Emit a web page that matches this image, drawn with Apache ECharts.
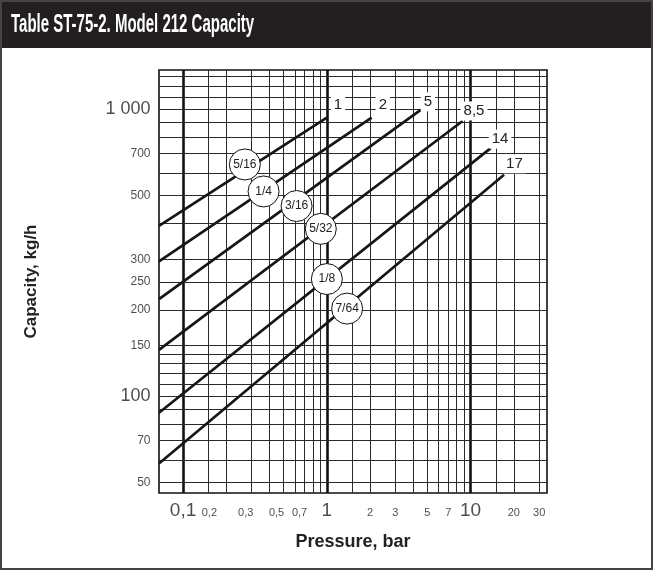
<!DOCTYPE html>
<html>
<head>
<meta charset="utf-8">
<title>Model 212 Capacity</title>
<script src="https://cdn.jsdelivr.net/npm/echarts@6/dist/echarts.min.js"></script>
<style>
  html, body { margin: 0; padding: 0; background: #fff; }
  #chart { width: 653px; height: 570px; }
</style>
</head>
<body>
<div id="chart"></div>
<script>
// plot range
const pressureMin = 0.068
const pressureMax = 34
const capacityMin = 46
const capacityMax = 1370

// one line per orifice size, ending at its max pressure
const orificeSizes = ['5/16', '1/4', '3/16', '5/32', '1/8', '7/64']
const maxPressureLabels = ['1', '2', '5', '8,5', '14', '17']
const startPressure = [0.068, 0.068, 0.068, 0.068, 0.068, 0.068]
const startCapacity = [392, 295, 218, 145, 87.6, 58.3]
const endPressure = [1.0, 2.05, 4.5, 8.8, 13.8, 17.1]
const endCapacity = [935, 935, 995, 910, 732, 591]

// where the size badges sit
const badgePressure = [0.269, 0.363, 0.616, 0.908, 1.0, 1.384]
const badgeCapacity = [642, 517, 460, 383, 256, 202]

// tick labels
const xTickValues = [0.1, 0.2, 0.3, 0.5, 0.7, 1, 2, 3, 5, 7, 10, 20, 30]
const xTickLabels = ['0,1', '0,2', '0,3', '0,5', '0,7', '1', '2', '3', '5', '7', '10', '20', '30']
const yTickValues = [50, 70, 100, 150, 200, 250, 300, 500, 700, 1000]
const yTickLabels = ['50', '70', '100', '150', '200', '250', '300', '500', '700', '1 000']

// grid lines
const xGridValues = [0.1, 0.15, 0.2, 0.3, 0.4, 0.5, 0.6, 0.7, 0.8, 0.9, 1, 1.5, 2, 3, 4, 5, 6, 7, 8, 9, 10, 15, 20, 30]
const yGridValues = [50, 60, 70, 80, 90, 100, 110, 120, 130, 140, 150, 200, 250, 300, 400, 500, 600, 700, 800, 900, 1000, 1100, 1200, 1300]

// small label nudges seen in the printed table (px)
const xLabelShift = { 0.2: -17, 0.3: -6, 0.5: -7, 0.7: -5 }
const endLabelOffset = [[-4, -13], [-4, -13], [-8, -8], [-10, -10], [-10, -9], [-9, -11]]

const FONT = '"Liberation Sans", Arial, sans-serif'
const isDecade = v => Math.abs(Math.log10(v) - Math.round(Math.log10(v))) < 1e-9

const chart = echarts.init(document.getElementById('chart'), null, { renderer: 'canvas' })

const lineSeries = orificeSizes.map((size, i) => ({
  name: size,
  type: 'line',
  data: [[startPressure[i], startCapacity[i]], [endPressure[i], endCapacity[i]]],
  symbol: 'none',
  showSymbol: false,
  silent: true,
  lineStyle: { color: '#161616', width: 2.7 },
  endLabel: {
    show: true,
    formatter: () => maxPressureLabels[i],
    offset: endLabelOffset[i],
    fontSize: 15,
    color: '#222',
    backgroundColor: '#fff',
    padding: [2, 3]
  },
  z: 4
}))

// custom grid drawn as mark lines, kept under the curves
const gridSeries = {
  type: 'line',
  data: [],
  silent: true,
  z: 1,
  markLine: {
    z: 1,
    silent: true,
    symbol: 'none',
    animation: false,
    label: { show: false },
    lineStyle: { color: '#2a2a2a', width: 1, type: 'solid' },
    data: [
      ...xGridValues.map(v => isDecade(v)
        ? { xAxis: v, lineStyle: { color: '#111', width: 2.6, type: 'solid' } }
        : { xAxis: v }),
      ...yGridValues.map(v => ({ yAxis: v }))
    ]
  }
}

const badgeSeries = {
  type: 'scatter',
  silent: true,
  symbol: 'circle',
  symbolSize: 31,
  itemStyle: { color: '#fff', borderColor: '#111', borderWidth: 1, opacity: 1 },
  label: { show: true, position: 'inside', formatter: '{b}', color: '#222', fontSize: 12 },
  data: orificeSizes.map((s, i) => ({ name: s, value: [badgePressure[i], badgeCapacity[i]] })),
  z: 7
}

const xTickSeries = {
  type: 'scatter',
  silent: true,
  clip: false,
  symbolSize: 1,
  itemStyle: { color: 'rgba(0,0,0,0)' },
  label: { show: true, position: 'bottom', formatter: '{b}', color: '#222' },
  data: xTickValues.map((v, i) => ({
    name: xTickLabels[i],
    value: [v, capacityMin],
    label: isDecade(v)
      ? { fontSize: 19, distance: 8 }
      : { fontSize: 11, distance: 14, offset: [xLabelShift[v] || 0, 0] }
  })),
  z: 7
}

const yTickSeries = {
  type: 'scatter',
  silent: true,
  clip: false,
  symbolSize: 1,
  itemStyle: { color: 'rgba(0,0,0,0)' },
  label: { show: true, position: 'left', formatter: '{b}', color: '#222', distance: 8 },
  data: yTickValues.map((v, i) => ({
    name: yTickLabels[i],
    value: [pressureMin, v],
    label: { fontSize: isDecade(v) ? 18 : 12 }
  })),
  z: 7
}

chart.setOption({
  animation: false,
  backgroundColor: '#fff',
  textStyle: { fontFamily: FONT },
  graphic: [
    { type: 'rect', shape: { x: 0, y: 0, width: 653, height: 48 }, style: { fill: '#231f20' }, z: 10 },
    { type: 'rect', shape: { x: 1, y: 1, width: 651, height: 568 }, style: { fill: 'none', stroke: '#444', lineWidth: 2 }, z: 11 },
    {
      type: 'text',
      x: 11,
      y: 25,
      scaleX: 0.6,
      style: {
        text: 'Table ST-75-2. Model 212 Capacity',
        fill: '#fff',
        font: 'bold 25px "Liberation Sans", Arial, sans-serif',
        textVerticalAlign: 'middle'
      },
      z: 12
    }
  ],
  grid: {
    left: 159,
    top: 70,
    right: 106,
    bottom: 77,
    show: true,
    borderColor: '#111',
    borderWidth: 1.6,
    backgroundColor: 'transparent'
  },
  xAxis: {
    type: 'log',
    min: pressureMin,
    max: pressureMax,
    axisLine: { show: false },
    axisTick: { show: false },
    axisLabel: { show: false },
    splitLine: { show: false },
    name: 'Pressure, bar',
    nameLocation: 'middle',
    nameGap: 40,
    nameTextStyle: { fontWeight: 'bold', fontSize: 18, color: '#222' }
  },
  yAxis: {
    type: 'log',
    min: capacityMin,
    max: capacityMax,
    axisLine: { show: false },
    axisTick: { show: false },
    axisLabel: { show: false },
    splitLine: { show: false },
    name: 'Capacity, kg/h',
    nameLocation: 'middle',
    nameGap: 119,
    nameTextStyle: { fontWeight: 'bold', fontSize: 17, color: '#222' }
  },
  series: [gridSeries, ...lineSeries, badgeSeries, xTickSeries, yTickSeries]
})

window.addEventListener('resize', () => chart.resize())
</script>
</body>
</html>
